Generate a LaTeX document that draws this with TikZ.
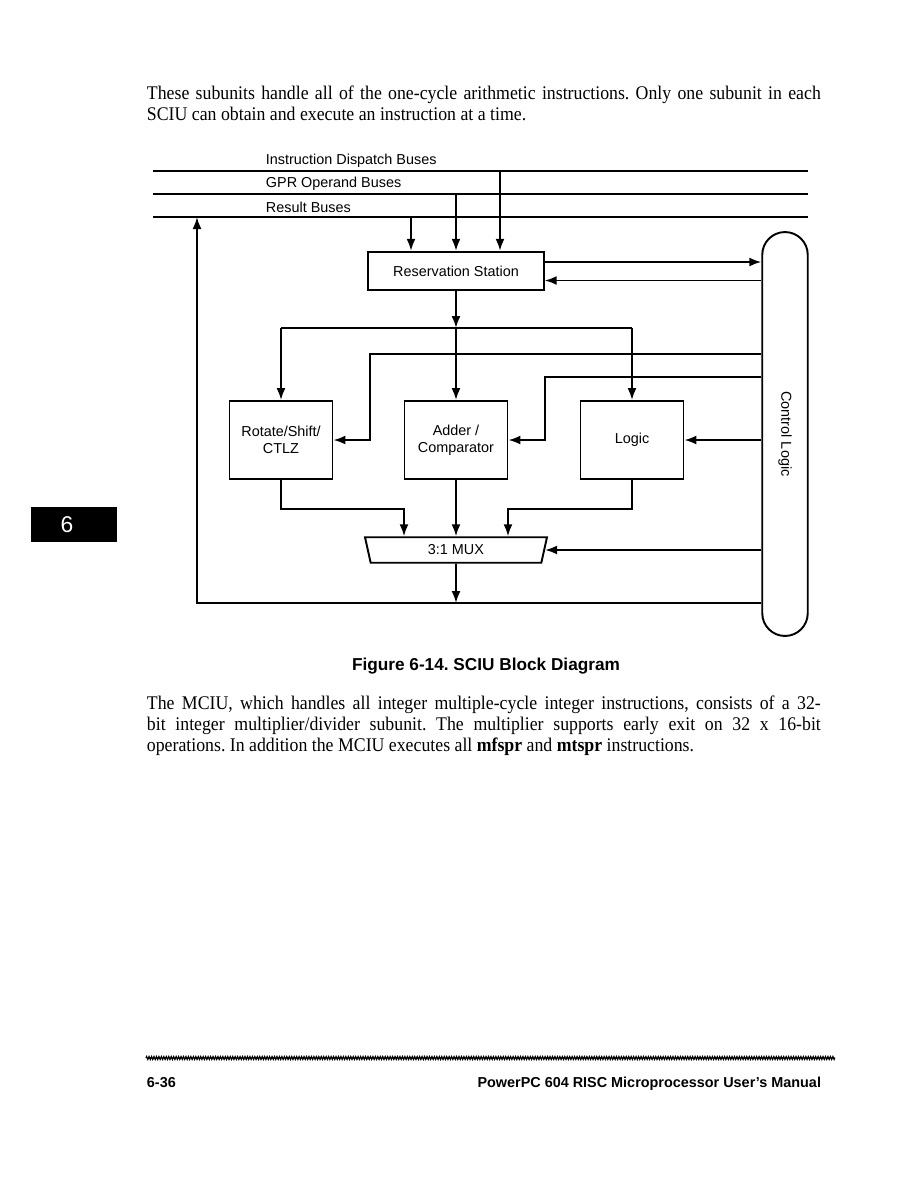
\documentclass[tikz,border=0pt]{standalone}
\usepackage{fontspec}
\setmainfont{Liberation Serif}[FakeStretch=0.92]
\setsansfont{Liberation Sans}
\usetikzlibrary{arrows.meta,shapes.geometric,decorations.pathmorphing}
\frenchspacing

\begin{document}
\begin{tikzpicture}[
  x=0.02cm, y=-0.02cm,
  font=\sffamily\fontsize{8.2}{9.6}\selectfont,
  line width=1.1pt,
  arr/.style={-{Latex[length=2.4mm,width=1.8mm]}},
  buslab/.style={anchor=west, inner sep=0pt},
  rsbox/.style={draw, inner sep=0pt, minimum width=3.51cm, minimum height=0.77cm},
  unit/.style={draw, align=center, inner sep=0pt, minimum width=2.06cm, minimum height=1.56cm},
  muxbox/.style={draw, trapezium, trapezium left angle=61, trapezium right angle=61,
    shape border rotate=180, trapezium stretches body, inner sep=0pt,
    minimum width=3.64cm, minimum height=0.51cm},
  ctl/.style={draw, rectangle, rounded corners=0.455cm, inner sep=0pt,
    minimum width=0.91cm, minimum height=8.08cm},
  body/.style={anchor=north west, inner sep=0pt, text width=13.48cm, align=justify,
    font=\rmfamily\fontsize{11}{12}\selectfont},
  capt/.style={inner sep=0pt, font=\sffamily\bfseries\fontsize{9.8}{12}\selectfont},
  foot/.style={inner sep=0pt, font=\sffamily\bfseries\fontsize{8.2}{10}\selectfont},
  tab/.style={fill=black, inner sep=0pt, minimum width=1.72cm, minimum height=0.7cm}]

\path[fill=white, use as bounding box] (0,0) rectangle (918,1188);

% text above the figure
\node[body] (para1) at (146,85) {These subunits handle all of the one-cycle arithmetic
  instructions. Only one subunit in each\linebreak SCIU can obtain and execute an
  instruction at a time.};

% buses
\foreach \y/\t/\n in {171/Instruction Dispatch Buses/b1, 194/GPR Operand Buses/b2, 217/Result Buses/b3}{
  \coordinate (\n w) at (153,\y);
  \coordinate (\n e) at (808,\y);
  \draw (\n w) -- (\n e);
  \node[buslab] (\n l) at (265,\y-10) {\t};}

% blocks
\node[rsbox] (rs) at (456,271) {Reservation Station};
\node[ctl] (ctl) at (785,434) {};
\node[rotate=-90, inner sep=0pt] (ctlt) at (ctl.center) {Control Logic};
\node[unit] (rot) at (281,440) {Rotate/Shift/\\CTLZ};
\node[unit] (add) at (456,440) {Adder /\\Comparator};
\node[unit] (logic) at (632,440) {Logic};
\node[muxbox] (mux) at (456,550) {3:1 MUX};

\coordinate (split) at (456,328);
\coordinate (c1) at (370,354);
\coordinate (c2) at (545,377);
\coordinate (mout) at (456,603);
\coordinate (ret) at (197,603);

% buses into the reservation station
\draw[arr] ([xshift=-0.9cm]rs.north |- b3w) -- ([xshift=-0.9cm]rs.north);
\draw[arr] (rs.north |- b2w) -- (rs.north);
\draw[arr] ([xshift=0.88cm]rs.north |- b1w) -- ([xshift=0.88cm]rs.north);

% reservation station <-> control logic
\draw[arr] ([yshift=0.18cm]rs.east) -- ([yshift=0.18cm]rs.east -| ctl.west);
\draw[arr] ([yshift=-0.19cm]rs.east -| ctl.west) -- ([yshift=-0.19cm]rs.east);

% operands to the subunits
\draw[arr] (rs.south) -- (split);
\draw (rot.north |- split) -- (logic.north |- split);
\draw[arr] (rot.north |- split) -- (rot.north);
\draw[arr] (split) -- (add.north);
\draw[arr] (logic.north |- split) -- (logic.north);

% control lines
\draw[arr] (ctl.west |- c1) -- (c1) |- (rot.east);
\draw[arr] (ctl.west |- c2) -- (c2) |- (add.east);
\draw[arr] (ctl.west |- logic.east) -- (logic.east);
\draw[arr] (ctl.west |- mux.east) -- (mux.east);

% results into the mux
\draw[arr] (rot.south) -- ++(0,29) -| ([xshift=-1.04cm]mux.north);
\draw[arr] (add.south) -- (mux.north);
\draw[arr] (logic.south) -- ++(0,29) -| ([xshift=1.04cm]mux.north);

% mux out and back to the result buses
\draw[arr] (mux.south) -- (mout);
\draw[arr] (ctl.west |- mout) -- (ret) -- (ret |- b3w);

\node[capt] (cap) at (486,666) {Figure 6-14. SCIU Block Diagram};

\node[body] (para2) at (146,695) {The MCIU, which handles all integer multiple-cycle integer
  instructions, consists of a 32-\linebreak bit integer multiplier/divider subunit. The
  multiplier supports early exit on 32 x 16-bit\linebreak operations. In addition the MCIU
  executes all \textbf{mfspr} and \textbf{mtspr} instructions.};

% chapter tab
\node[tab] (tab) at (74,524) {};
\node[inner sep=0pt, white, font=\sffamily\fontsize{13}{15}\selectfont] (tabn) at (67,525) {6};

% footer
\draw[line width=0.7pt, decorate, decoration={zigzag, amplitude=0.8pt, segment length=1.4pt}]
  (146,1058) -- (835,1058);
\node[foot, anchor=base west] (pg) at (146,1087) {6-36};
\node[foot, anchor=base east] (man) at (822,1087) {PowerPC 604 RISC Microprocessor User's Manual};
\end{tikzpicture}
\end{document}
